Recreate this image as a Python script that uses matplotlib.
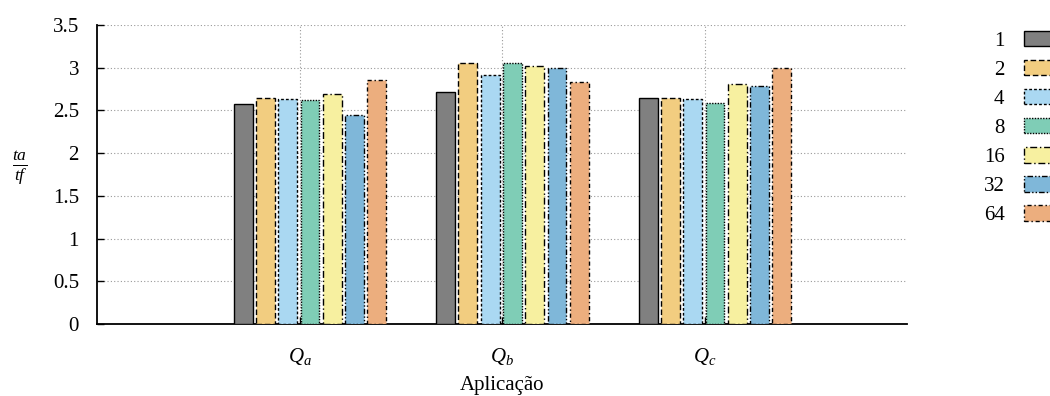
import matplotlib
matplotlib.use("Agg")
import matplotlib.pyplot as plt
import numpy as np

categories = [r"$Q_a$", r"$Q_b$", r"$Q_c$"]
series_labels = ["1", "2", "4", "8", "16", "32", "64"]
values = {
    "1":  [2.58, 2.71, 2.65],
    "2":  [2.65, 3.06, 2.65],
    "4":  [2.63, 2.92, 2.63],
    "8":  [2.62, 3.05, 2.59],
    "16": [2.69, 3.02, 2.81],
    "32": [2.45, 3.00, 2.79],
    "64": [2.86, 2.83, 3.00],
}
colors = ["#808080", "#f2cd80", "#aad8f2", "#7fcdb6", "#f7f0a0", "#7fb7d9", "#ecae7e"]
edge_styles = ["-", (0, (4, 2)), (0, (2, 1.5)), (0, (1, 1)), (0, (5, 2, 1, 2)), (0, (4, 1.5, 1, 1.5, 1, 1.5)), (0, (3, 2, 1, 2))]

plt.rcParams["font.family"] = ["Liberation Serif", "DejaVu Serif"]
plt.rcParams["mathtext.fontset"] = "custom"
plt.rcParams["mathtext.it"] = "Liberation Serif:italic"
plt.rcParams["mathtext.rm"] = "Liberation Serif"

FS = 15

fig = plt.figure(figsize=(10.5, 3.96), dpi=100)
ax = fig.add_axes([97/1050, 1-324/396, (907-97)/1050, (324-25)/396])

x = np.arange(1, len(categories)+1)
step = 0.11
width = 0.093
offset0 = -0.325
for i, s in enumerate(series_labels):
    pos = x + offset0 + i*step + width/2
    ax.bar(pos, values[s], width=width, color=colors[i], edgecolor="black",
           linewidth=1.0, linestyle=edge_styles[i], label=s, zorder=3)

ax.set_xlim(0, 4)
ax.set_ylim(0, 3.5)
ax.set_yticks(np.arange(0, 3.51, 0.5))
ax.set_yticklabels(["0", "0.5", "1", "1.5", "2", "2.5", "3", "3.5"])
ax.set_xticks(x)
ax.set_xticklabels(categories)
ax.tick_params(axis="both", direction="in", labelsize=FS, length=5, width=1.0)
ax.tick_params(axis="x", pad=16)
ax.tick_params(axis="y", pad=13)
for sp in ["top", "right"]:
    ax.spines[sp].set_visible(False)
for sp in ["left", "bottom"]:
    ax.spines[sp].set_linewidth(1.3)
ax.grid(True, linestyle=(0, (1, 2)), color="#999999", linewidth=0.8, zorder=0)
ax.set_axisbelow(True)

ax.set_xlabel("Aplicação", fontsize=FS, labelpad=6)
fig.text(20/1050, 1-168/396, r"$\frac{ta}{tf}$", fontsize=18, ha="center", va="center")

leg = fig.legend(loc="upper right", bbox_to_anchor=(1064/1050, 1-31/396), frameon=False,
                 markerfirst=False, fontsize=FS, handlelength=1.9, handleheight=0.75,
                 handletextpad=0.95, labelspacing=0.44, borderpad=0, borderaxespad=0)

fig.savefig("out.png", dpi=100)
